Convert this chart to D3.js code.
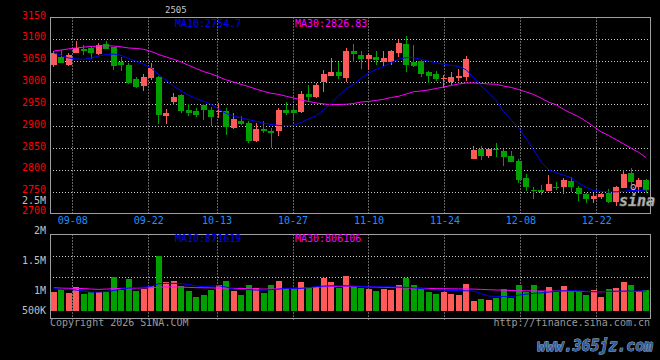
<!DOCTYPE html>
<html><head><meta charset="utf-8">
<script src="https://cdn.jsdelivr.net/npm/d3@7/dist/d3.min.js"></script>
<style>
html,body{margin:0;padding:0;background:#000;}
svg{display:block;}
text{font-family:"DejaVu Sans Mono",monospace;}
</style></head><body>
<svg id="chart" width="660" height="360"></svg>
<script>
const dates = ["09-03","09-04","09-05","09-08","09-09","09-10","09-11","09-12","09-15","09-16","09-17","09-18","09-19","09-22","09-23","09-24","09-25","09-26","09-29","09-30",
"10-09","10-10","10-13","10-14","10-15","10-16","10-17","10-20","10-21","10-22","10-23","10-24","10-27","10-28","10-29","10-30","10-31",
"11-03","11-04","11-05","11-06","11-07","11-10","11-11","11-12","11-13","11-14","11-17","11-18","11-19","11-20","11-21","11-24","11-25","11-26","11-27","11-28",
"12-01","12-02","12-03","12-04","12-05","12-08","12-09","12-10","12-11","12-12","12-15","12-16","12-17","12-18","12-19","12-22","12-23","12-24","12-25","12-26","12-29","12-30","12-31"];
const opens  = [3042,3059,3041,3069,3078,3081,3066,3089,3082,3047,3040,3009,2993,3012,3014,2925,2957,2972,2938,2937,2950,2938,2934,2937,2896,2914,2909,2867,2895,2889,2889,2938,2938,2934,2975,2969,3003,3017,3026,3011,3073,3064,3055,3059,3049,3049,3068,3089,3049,3051,3024,3021,3010,3003,3011,3014,2826,2849,2834,2850,2844,2834,2822,2783,2756,2755,2753,2762,2761,2776,2759,2746,2735,2740,2748,2728,2760,2795,2761,2778];
const highs  = [3072,3076,3068,3096,3087,3083,3091,3096,3083,3060,3045,3014,3021,3045,3016,2941,2978,2974,2952,2943,2952,2944,2955,2943,2931,2925,2914,2909,2914,2896,2942,2957,2950,2982,2995,2999,3030,3057,3049,3079,3089,3072,3068,3072,3074,3076,3098,3107,3087,3052,3028,3028,3018,3026,3032,3062,2856,2856,2850,2863,2848,2845,2826,2791,2763,2767,2790,2774,2783,2784,2764,2749,2749,2748,2757,2764,2801,2805,2782,2780];
const lows   = [3037,3045,3039,3068,3063,3054,3064,3077,3030,3028,2997,2989,2982,3007,2906,2906,2950,2931,2924,2921,2915,2902,2919,2881,2894,2904,2862,2864,2885,2851,2879,2927,2916,2931,2957,2965,2980,3016,3008,3003,3049,3032,3030,3041,3039,3041,3059,3024,3037,3014,2999,3005,2988,2995,3005,3005,2826,2824,2829,2831,2810,2819,2771,2753,2735,2744,2752,2754,2746,2751,2731,2726,2726,2735,2726,2719,2759,2767,2751,2748];
const closes = [3068,3046,3064,3081,3074,3068,3088,3078,3039,3040,2999,2991,3014,3034,2927,2932,2969,2937,2932,2927,2938,2922,2935,2900,2917,2906,2868,2895,2890,2886,2938,2932,2932,2975,2969,2995,3021,3026,3015,3073,3066,3055,3064,3053,3057,3072,3092,3041,3039,3021,3016,3008,3011,3013,3016,3055,2847,2834,2849,2849,2831,2820,2777,2763,2755,2750,2770,2761,2778,2761,2746,2735,2742,2745,2728,2761,2792,2774,2778,2754];
const ma10 = [3069,3063,3057,3055,3054,3057,3062,3065,3066,3063,3056,3049,3043,3034,3019,3006,2992,2982,2972,2964,2958,2951,2940,2930,2924,2920,2916,2912,2908,2905,2903,2902,2903,2910,2918,2925,2939,2954,2971,2987,2997,3011,3023,3031,3038,3047,3054,3058,3058,3054,3050,3046,3043,3040,3038,3030,3012,2993,2977,2959,2934,2915,2897,2872,2847,2819,2801,2795,2789,2783,2771,2761,2754,2752,2751,2751,2752,2754,2754,2754.7];
const ma30 = [3073,3075.5,3078,3080,3082,3083.5,3084.5,3085,3084.5,3082.5,3080,3079,3077,3072,3065,3059.5,3054,3048,3040,3033,3026,3020.6,3014,3007,3002,2996.6,2991.6,2986,2980.6,2976.4,2973.7,2969.6,2965.7,2961,2957.7,2954.3,2952,2950.4,2950.8,2951.3,2953,2956.5,2957.7,2960,2962.7,2966.8,2969.6,2974.8,2980,2981.7,2984,2987.4,2990.9,2994.3,2997.7,3000,3000,2999,2997.7,2997,2993,2989.7,2985,2979.4,2973.7,2965,2956,2950,2939.4,2930.7,2922.7,2912,2900,2888,2879.7,2870,2860.4,2850.6,2841,2829];
const volumes = [783000,882000,742000,964000,688000,758000,758000,758000,1401000,853000,1306000,824000,882000,1018000,2266000,1170000,1224000,1030000,824000,577000,647000,853000,1059000,1224000,824000,647000,1059000,948000,742000,1059000,1224000,923000,923000,1182000,923000,964000,1360000,1195000,948000,1442000,1030000,948000,894000,824000,894000,853000,1059000,1360000,1059000,894000,783000,688000,783000,688000,647000,1100000,412000,482000,441000,536000,894000,511000,1059000,783000,1059000,812000,989000,783000,1030000,824000,783000,647000,853000,577000,894000,948000,1195000,1059000,824000,853000];
const volMa10 = [915000,882000,882000,853000,812000,770000,770000,800000,832000,894000,935000,956000,976000,997000,1121000,1129000,1129000,1121000,1079000,1018000,997000,1018000,1030000,976000,894000,873000,873000,853000,853000,873000,894000,923000,923000,923000,956000,997000,1018000,1030000,1030000,1030000,1018000,1005000,989000,989000,989000,989000,976000,964000,948000,915000,882000,861000,853000,840000,832000,824000,812000,709000,606000,593000,585000,577000,647000,688000,717000,737000,770000,803000,824000,824000,820000,803000,787000,791000,800000,808000,812000,812000,812000,812000];
const volMa30 = [948000,935000,927000,923000,915000,894000,882000,894000,911000,923000,927000,935000,943000,948000,968000,985000,985000,976000,964000,952000,948000,943000,935000,931000,923000,919000,911000,902000,894000,898000,906000,915000,923000,935000,952000,968000,985000,997000,1005000,1009000,1005000,997000,985000,976000,964000,956000,948000,939000,931000,927000,923000,915000,911000,906000,902000,898000,894000,882000,869000,857000,849000,836000,828000,824000,820000,816000,812000,812000,808000,803000,800000,791000,787000,783000,787000,791000,795000,795000,800000,800000];
const priceTicks = [3150,3100,3050,3000,2950,2900,2850,2800,2750,2700];
const dateTicks = ["09-08","09-22","10-13","10-27","11-10","11-24","12-08","12-22"];
const volTickValues = [2500000,2000000,1500000,1000000,500000];
const volTickLabels = ["2.5M","2M","1.5M","1M","500K"];
const chartTitle = "2505";
const maLabels = {price10:"MA10:2754.7", price30:"MA30:2826.83", vol10:"MA10:871619", vol30:"MA30:806106"};

const L = 50, R = 650;
const mainTop = 17.5, mainBottom = 213.5;
const volTop = 234.5, volBottom = 318.5;

const svg = d3.select("#chart");
svg.append("rect").attr("width",660).attr("height",360).attr("fill","#000");

const x = d3.scaleBand().domain(dates).range([L, R]);
const xp = d3.scalePoint().domain(dates).range([L, R]);
const bw = x.bandwidth();
const cx = d => x(d) + bw / 2;
const y = d3.scaleLinear().domain([2700, 3150]).range([214.1, 17.4]);
const vy = d3.scaleLinear().domain([0, 3130000]).range([310.8, 234.8]);
const vLabelY = d3.scaleLinear().domain([500000, 1000000, 2500000]).range([310.7, 290.7, 200.7]);

const gridColor = "#c8c8c8";
const frameColor = "#a0a0a0";
const up = "#ff5a5a", down = "#00a000";

// main gridlines
const g = svg.append("g");
priceTicks.filter(v => v < 3150 && v > 2700).forEach(v => {
  const yy = Math.floor(y(v)) + 0.5;
  g.append("line").attr("x1", L).attr("x2", R).attr("y1", yy).attr("y2", yy)
    .attr("stroke", gridColor).attr("stroke-dasharray", "1,2");
});
dateTicks.forEach(d => {
  const xx = Math.floor(xp(d)) + 0.5;
  g.append("line").attr("x1", xx).attr("x2", xx).attr("y1", mainTop).attr("y2", mainBottom)
    .attr("stroke", gridColor).attr("stroke-dasharray", "1,2");
  g.append("line").attr("x1", xx).attr("x2", xx).attr("y1", volTop).attr("y2", volBottom + 2)
    .attr("stroke", gridColor).attr("stroke-dasharray", "1,2");
});
// volume horizontal gridlines (quarters of panel)
[0.25, 0.5].forEach(f => {
  const yy = Math.round(volTop + (volBottom - volTop) * f) + 0.5;
  g.append("line").attr("x1", L).attr("x2", R).attr("y1", yy).attr("y2", yy)
    .attr("stroke", gridColor).attr("stroke-dasharray", "1,2");
});

// frames
const fr = svg.append("g").attr("fill", "none").attr("stroke", frameColor).attr("shape-rendering", "crispEdges");
fr.append("rect").attr("x", L).attr("y", mainTop).attr("width", R - L).attr("height", mainBottom - mainTop);
fr.append("rect").attr("x", L).attr("y", volTop).attr("width", R - L).attr("height", volBottom - volTop);

// candles
const candles = dates.map((d, i) => ({d, o: opens[i], h: highs[i], l: lows[i], c: closes[i], v: volumes[i]}));
const cg = svg.append("g").attr("shape-rendering", "crispEdges");
candles.forEach(k => {
  const col = k.c >= k.o ? up : down;
  const xx = Math.floor(cx(k.d)) + 0.5;
  cg.append("line").attr("x1", xx).attr("x2", xx).attr("y1", y(k.h)).attr("y2", y(k.l)).attr("stroke", col);
  const top = y(Math.max(k.o, k.c)), bot = y(Math.min(k.o, k.c));
  cg.append("rect").attr("x", Math.round(cx(k.d) - 2.8)).attr("width", 6)
    .attr("y", top).attr("height", Math.max(1, bot - top)).attr("fill", col);
  cg.append("rect").attr("x", Math.round(cx(k.d) - 2.8)).attr("width", 6)
    .attr("y", vy(k.v)).attr("height", vy(0) - vy(k.v)).attr("fill", col);
});

// MA lines
const lineP = arr => d3.line().x((d, i) => cx(dates[i])).y(d => y(d))(arr);
const lineV = arr => d3.line().x((d, i) => cx(dates[i])).y(d => vy(d))(arr);
svg.append("path").attr("d", lineP(ma30)).attr("fill", "none").attr("stroke", "#ff00ff").attr("stroke-width", 1);
svg.append("path").attr("d", lineP(ma10)).attr("fill", "none").attr("stroke", "#0000ff").attr("stroke-width", 1);
svg.append("path").attr("d", lineV(volMa30)).attr("fill", "none").attr("stroke", "#ff00ff").attr("stroke-width", 1);
svg.append("path").attr("d", lineV(volMa10)).attr("fill", "none").attr("stroke", "#0000ff").attr("stroke-width", 1);

// sina logo watermark
svg.append("text").attr("x", 619).attr("y", 206).text("sina")
  .attr("font-family", "DejaVu Sans").attr("font-style", "italic").attr("font-weight", "bold")
  .attr("font-size", 15).attr("fill", "#d0d0d0").attr("stroke", "#8a8a8a").attr("stroke-width", 0.6)
  .attr("opacity", 0.9);
svg.append("text").attr("x", 630).attr("y", 190).text("ʘ")
  .attr("font-family", "DejaVu Sans").attr("font-size", 11).attr("fill", "#e0b0b0");

// axis labels
const fs = 10;
priceTicks.forEach(v => {
  svg.append("text").attr("x", 46).attr("y", Math.min(y(v) + 1.1, 213.5)).attr("text-anchor", "end")
    .attr("font-size", fs).attr("fill", "#ff0000").text(v);
});
dateTicks.forEach(d => {
  svg.append("text").attr("x", xp(d)).attr("y", 224).attr("text-anchor", "middle")
    .attr("font-size", fs).attr("fill", "#1e90ff").text(d);
});
volTickValues.forEach((v, i) => {
  svg.append("text").attr("x", 46).attr("y", vLabelY(v) + 2.8).attr("text-anchor", "end")
    .attr("font-size", fs).attr("fill", "#c0c0c0").text(volTickLabels[i]);
});

// titles
svg.append("text").attr("x", 165).attr("y", 13).attr("font-size", 9).attr("fill", "#c8c8c8").text(chartTitle);
svg.append("text").attr("x", 175).attr("y", 27).attr("font-size", fs).attr("fill", "#0000ff").text(maLabels.price10);
svg.append("text").attr("x", 295).attr("y", 27).attr("font-size", fs).attr("fill", "#ff00ff").text(maLabels.price30);
svg.append("text").attr("x", 175).attr("y", 242).attr("font-size", fs).attr("fill", "#0000ff").text(maLabels.vol10);
svg.append("text").attr("x", 295).attr("y", 242).attr("font-size", fs).attr("fill", "#ff00ff").text(maLabels.vol30);

// footer
svg.append("text").attr("x", 50).attr("y", 326).attr("font-size", fs).attr("fill", "#9a9a9a").text("Copyright 2026 SINA.COM");
svg.append("text").attr("x", 650).attr("y", 326).attr("text-anchor", "end").attr("font-size", fs).attr("fill", "#9a9a9a").text("http://finance.sina.com.cn");

// site watermark
svg.append("text").attr("x", 537).attr("y", 351).text("www.365jz.com")
  .attr("font-family", "DejaVu Sans").attr("font-weight", "bold").attr("font-style", "italic")
  .attr("font-size", 15).attr("textLength", 116).attr("lengthAdjust", "spacingAndGlyphs")
  .attr("fill", "#2f5b9a").attr("stroke", "#b8c8dc").attr("stroke-width", 0.8).attr("paint-order", "stroke");
</script>
</body></html>
